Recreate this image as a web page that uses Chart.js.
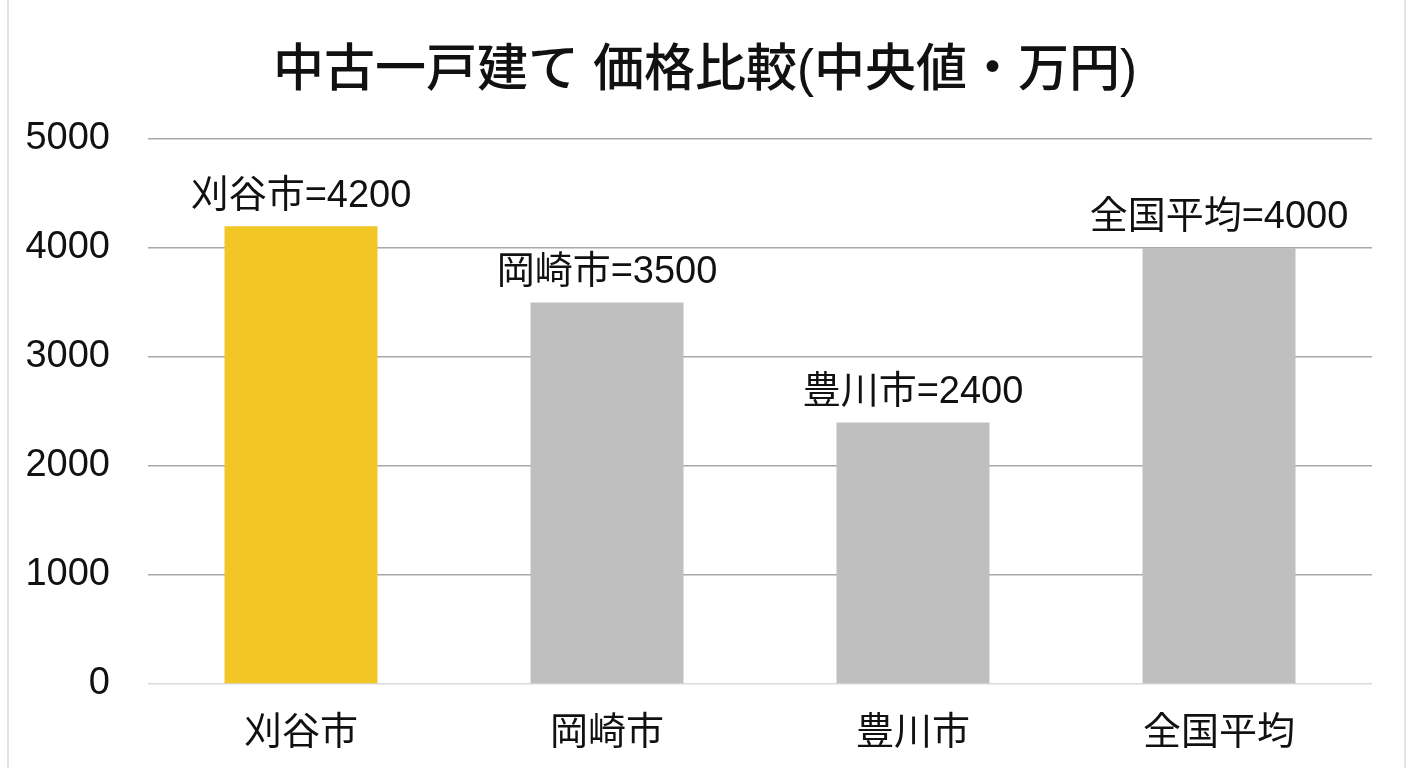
<!DOCTYPE html>
<html lang="ja">
<head>
<meta charset="utf-8">
<script src="https://cdn.jsdelivr.net/npm/chart.js@4.4.1/dist/chart.umd.min.js"></script>
<style>
  html, body { margin: 0; padding: 0; background: #fff; }
  #wrap { position: relative; width: 1408px; height: 768px; }
  #wrap::before, #wrap::after {
    content: ''; position: absolute; top: 0; bottom: 0; width: 2px; background: #e3e3e3;
  }
  #wrap::before { left: 7px; }
  #wrap::after { left: 1404px; }
</style>
</head>
<body>
<div id="wrap">
  <canvas id="myChart" width="1408" height="768"></canvas>
</div>
<script>
const categories = ['刈谷市', '岡崎市', '豊川市', '全国平均'];
const prices = [4200, 3500, 2400, 4000];
const barColors = ['#F2C624', '#BFBFBF', '#BFBFBF', '#BFBFBF'];
const yTicks = [0, 1000, 2000, 3000, 4000, 5000];
const chartTitle = '中古一戸建て 価格比較(中央値・万円)';

const FONT = '"Liberation Sans", Arial, "Noto Sans CJK JP", sans-serif';

// title + labels above the bars
const textPlugin = {
  id: 'textPlugin',
  afterDatasetsDraw(chart) {
    const ctx = chart.ctx;
    ctx.save();
    ctx.fillStyle = '#111';
    ctx.textAlign = 'center';
    ctx.textBaseline = 'middle';
    ctx.font = '500 51px ' + FONT;
    ctx.fillText(chartTitle, 705, 72);

    ctx.font = '38px ' + FONT;
    chart.getDatasetMeta(0).data.forEach((bar, i) => {
      ctx.fillText(categories[i] + '=' + prices[i], bar.x, bar.y - 30);
    });
    ctx.restore();
  }
};

new Chart('myChart', {
  type: 'bar',
  data: {
    labels: categories,
    datasets: [{
      data: prices,
      backgroundColor: barColors,
      borderWidth: 0,
      categoryPercentage: 1,
      barPercentage: 0.5,
    }],
  },
  options: {
    responsive: false,
    animation: false,
    layout: { padding: { top: 139, right: 36, left: 0, bottom: 0 } },
    plugins: {
      legend: { display: false },
      title: { display: false },
      tooltip: { enabled: false },
    },
    scales: {
      x: {
        grid: { display: false, drawTicks: false },
        border: { display: false },
        ticks: { color: '#111', font: { family: FONT, size: 38 }, padding: 27 },
        afterFit: (s) => { s.height = 84; },
      },
      y: {
        min: 0,
        max: 5000,
        afterBuildTicks: (s) => { s.ticks = yTicks.map(v => ({ value: v })); },
        grid: {
          drawTicks: false,
          lineWidth: 1.5,
          color: (c) => c.tick && c.tick.value === 0 ? '#d9d9d9' : '#a8a8a8',
        },
        border: { display: false },
        ticks: {
          color: '#111',
          font: { family: FONT, size: 38 },
          padding: 38,
          callback: (v) => String(v),
        },
        afterFit: (s) => { s.width = 148; },
      },
    },
  },
  plugins: [textPlugin],
});
</script>
</body>
</html>
